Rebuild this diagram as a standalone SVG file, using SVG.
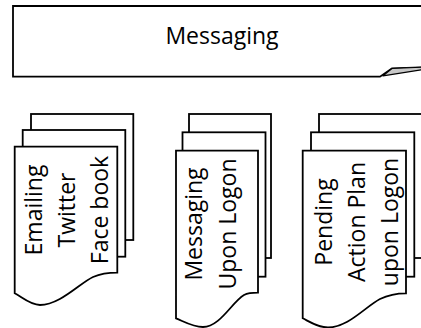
<svg xmlns="http://www.w3.org/2000/svg" width="421" height="328" viewBox="0 0 421 328">
  <style>
    .shape { fill: #ffffff; stroke: #000000; stroke-width: 1.8; stroke-linejoin: miter; }
    .curl { fill: #c8c8c8; stroke: #000000; stroke-width: 1.2; stroke-linejoin: round; }
    .label { font-family: "Open Sans", "Liberation Sans", sans-serif; font-size: 23px; fill: #000000; text-anchor: middle; }
  </style>
  <rect x="0" y="0" width="421" height="328" fill="#ffffff"/>

  <!-- Title banner with a curled lower-right corner -->
  <g id="node-messaging">
    <path class="shape" d="M430,6 H13 V76.7 H380 L392,68.5 L430,67"/>
    <path class="curl" d="M392,68.5 L422,67.2 L422,69.8 L383,75.8 Z"/>
    <text class="label" x="222" y="43.5">Messaging</text>
  </g>

  <!-- Stacked documents: Emailing / Twitter / Face book -->
  <g id="node-doc-social">
    <rect class="shape" x="31" y="114" width="102.3" height="126"/>
    <rect class="shape" x="22.7" y="130" width="102.6" height="126.7"/>
    <path class="shape" d="M14.7,146.7 H117.3 V272.7 C108,272.7 100,274 93,277 C80,283 60,305 40,305 C30,305 22,297 14.7,293.3 Z"/>
    <text class="label" transform="translate(41.7,210) rotate(-90)">Emailing</text>
    <text class="label" transform="translate(74.9,210) rotate(-90)">Twitter</text>
    <text class="label" transform="translate(108.3,210) rotate(-90)">Face book</text>
  </g>

  <!-- Stacked documents: Messaging Upon Logon -->
  <g id="node-doc-logon">
    <rect class="shape" x="189" y="114" width="82" height="144"/>
    <rect class="shape" x="182.5" y="132.3" width="83" height="144.4"/>
    <path class="shape" d="M176,150.7 H258 V292.7 C252,292.7 248,293 244,295 C232,302 220,327 203,327 C193,327 185,322 176,318.3 Z"/>
    <text class="label" transform="translate(202,224) rotate(-90)">Messaging</text>
    <text class="label" transform="translate(235.7,224) rotate(-90)">Upon Logon</text>
  </g>

  <!-- Stacked documents: Pending Action Plan upon Logon -->
  <g id="node-doc-pending">
    <rect class="shape" x="319" y="114" width="130" height="144"/>
    <rect class="shape" x="311" y="132.3" width="103.3" height="144.4"/>
    <path class="shape" d="M302.7,150.7 H406 V293.3 C396,293.3 388,295 380,299 C365,307 348,327.5 328,327.5 C318,327.5 310,322 302.7,318.3 Z"/>
    <text class="label" transform="translate(331.7,222) rotate(-90)">Pending</text>
    <text class="label" transform="translate(364.5,222) rotate(-90)">Action Plan</text>
    <text class="label" transform="translate(398.2,222) rotate(-90)">upon Logon</text>
  </g>
</svg>
